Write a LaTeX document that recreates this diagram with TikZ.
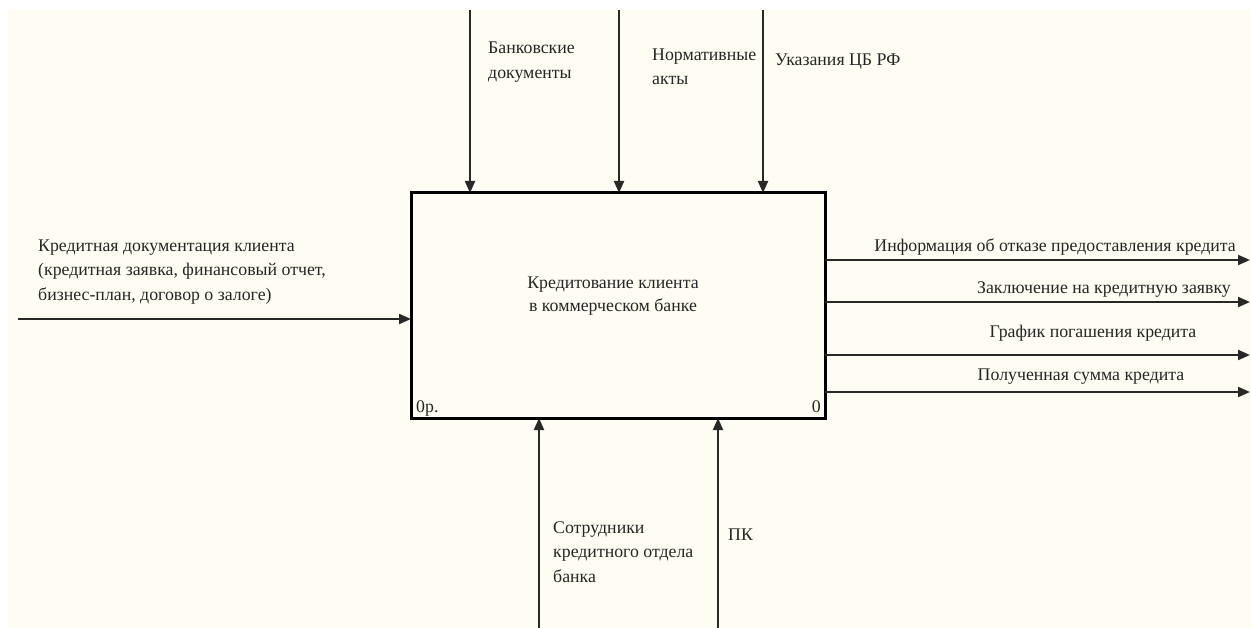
\documentclass[tikz,border=0pt]{standalone}
\usepackage{fontspec}
\setmainfont{Liberation Serif}
\usetikzlibrary{arrows.meta}
\definecolor{cream}{RGB}{255,252,243}
\definecolor{arrowc}{RGB}{40,40,40}
\begin{document}
\begin{tikzpicture}[x=1pt,y=-1pt,
  flow/.style={draw=arrowc,line width=2pt,-{Triangle[length=12pt,width=10pt]}},
  lbl/.style={font=\fontsize{17.8}{24.5}\selectfont,inner sep=0pt,align=left,text=black!85},
  func/.style={draw=black,line width=3pt,fill=cream,minimum width=414pt,minimum height=225pt,inner sep=0pt}]
\useasboundingbox (0,0) rectangle (1251,628);
\fill[white] (0,0) rectangle (1251,628);
\fill[cream] (8,10) rectangle (1251,628);
\node[func] (f) at (618,305.5) {};
\node[lbl,align=center,font=\fontsize{17.8}{22.5}\selectfont] (ftext) at (613,296) {Кредитование клиента\\ в коммерческом банке};
\node[lbl,anchor=west] (fnum1) at (416,408) {0р.};
\node[lbl,anchor=east] (fnum2) at (821,407) {0};
% controls
\coordinate (c1) at (470,10);
\coordinate (c2) at (619,10);
\coordinate (c3) at (763,10);
\coordinate (c1e) at (470,193);
\coordinate (c2e) at (619,193);
\coordinate (c3e) at (763,193);
\draw[flow] (c1) -- (c1e);
\draw[flow] (c2) -- (c2e);
\draw[flow] (c3) -- (c3e);
\node[lbl,anchor=west] (lc1) at (488,62) {Банковские\\документы};
\node[lbl,anchor=west] (lc2) at (652,67) {Нормативные\\акты};
\node[lbl,anchor=west] (lc3) at (775,62) {Указания ЦБ РФ};
% input
\coordinate (i1) at (18,319);
\coordinate (i1e) at (411,319);
\draw[flow] (i1) -- (i1e);
\node[lbl,anchor=west] (li1) at (38,272) {Кредитная документация клиента\\(кредитная заявка, финансовый отчет,\\бизнес-план, договор о залоге)};
% outputs
\coordinate (o1s) at (825,260);
\coordinate (o2s) at (825,302);
\coordinate (o3s) at (825,355);
\coordinate (o4s) at (825,392);
\coordinate (o1) at (1250,260);
\coordinate (o2) at (1250,302);
\coordinate (o3) at (1250,355);
\coordinate (o4) at (1250,392);
\draw[flow] (o1s) -- (o1);
\draw[flow] (o2s) -- (o2);
\draw[flow] (o3s) -- (o3);
\draw[flow] (o4s) -- (o4);
\node[lbl,anchor=east] (lo1) at (1236,247) {Информация об отказе предоставления кредита};
\node[lbl,anchor=east] (lo2) at (1231,290) {Заключение на кредитную заявку};
\node[lbl] (lo3) at (1093,333) {График погашения кредита};
\node[lbl] (lo4) at (1081,377) {Полученная сумма кредита};
% mechanisms
\coordinate (m1) at (539,628);
\coordinate (m2) at (718,628);
\coordinate (m1e) at (539,418);
\coordinate (m2e) at (718,418);
\draw[flow] (m1) -- (m1e);
\draw[flow] (m2) -- (m2e);
\node[lbl,anchor=west] (lm1) at (553,552) {Сотрудники\\кредитного отдела\\банка};
\node[lbl,anchor=west] (lm2) at (728,535) {ПК};
\end{tikzpicture}
\end{document}
